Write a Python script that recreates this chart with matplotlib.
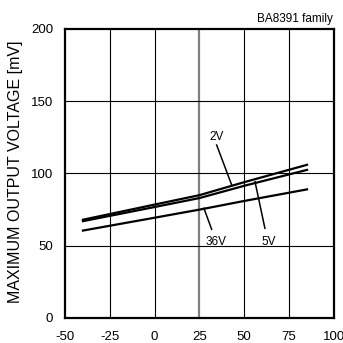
import matplotlib.pyplot as plt
import numpy as np

plt.rcParams['font.family'] = ['Liberation Sans', 'DejaVu Sans']
plt.rcParams['axes.unicode_minus'] = False

# data
temps = [-40, 0, 25, 50, 85]
v_2v = [68, 78.5, 85, 94, 106]
v_5v = [67, 76.8, 83, 91.5, 102.5]
v_36v = [60.5, 69.4, 75, 81, 89]

x_ticks = [-50, -25, 0, 25, 50, 75, 100]
y_ticks = [0, 50, 100, 150, 200]

fig = plt.figure(figsize=(3.43, 3.43), dpi=100, facecolor='white')
ax = fig.add_axes([0.1895, 0.0729, 0.784, 0.8426])
ax.set_xlim(-50, 100)
ax.set_ylim(0, 200)

# grid
for xv in x_ticks[1:-1]:
    if xv == 25:
        ax.axvline(xv, color='#808080', lw=1.6, zorder=1)
    else:
        ax.axvline(xv, color='black', lw=0.8, zorder=1)
for yv in y_ticks[1:-1]:
    ax.axhline(yv, color='black', lw=0.8, zorder=1)

ax.plot(temps, v_2v, color='black', lw=1.6, zorder=3)
ax.plot(temps, v_5v, color='black', lw=1.6, zorder=3)
ax.plot(temps, v_36v, color='black', lw=1.6, zorder=3)

# labels with leader lines
ax.plot([34.6, 43.0], [119.7, 92.0], color='black', lw=1.1, zorder=3)
ax.plot([56.0, 61.5], [94.3, 62.1], color='black', lw=1.1, zorder=3)
ax.plot([27.5, 31.8], [75.9, 61.4], color='black', lw=1.1, zorder=3)
ax.text(34.5, 125.3, '2V', fontsize=8.5, ha='center', va='center')
ax.text(34.5, 52.6, '36V', fontsize=8.5, ha='center', va='center')
ax.text(63.8, 52.6, '5V', fontsize=8.5, ha='center', va='center')

ax.set_xticks(x_ticks)
ax.set_yticks(y_ticks)
ax.tick_params(length=0, labelsize=9.5)
ax.tick_params(axis='y', pad=8.5)
ax.tick_params(axis='x', pad=9.5)
for s in ax.spines.values():
    s.set_linewidth(1.6)

fig.text(0.044, 0.5, 'MAXIMUM OUTPUT VOLTAGE [mV]', rotation=90,
         ha='center', va='center', fontsize=11.5)
fig.text(0.971, 0.945, 'BA8391 family', ha='right', va='center', fontsize=8.5)

fig.savefig('out.png', dpi=100, facecolor='white')
